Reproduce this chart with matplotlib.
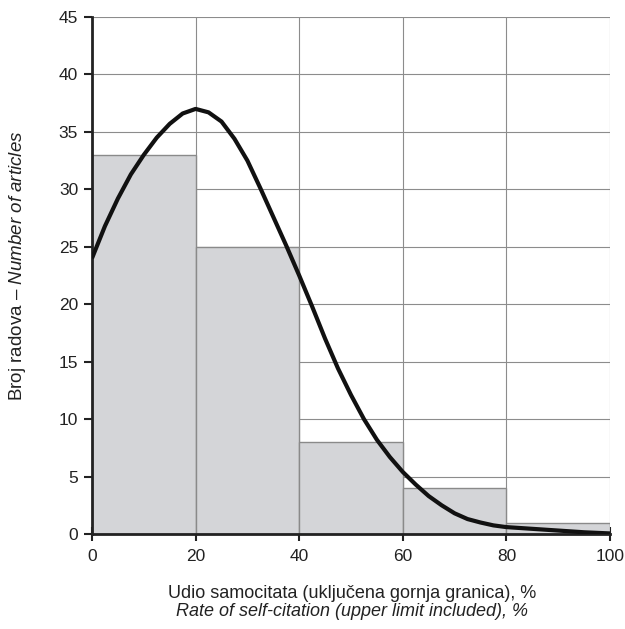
import matplotlib
matplotlib.use("Agg")
import matplotlib.pyplot as plt
from matplotlib import font_manager

names = {f.name for f in font_manager.fontManager.ttflist}
fam = 'Liberation Sans Narrow' if 'Liberation Sans Narrow' in names else 'Liberation Sans'
plt.rcParams['font.family'] = [fam, 'DejaVu Sans']
plt.rcParams['mathtext.fontset'] = 'custom'
plt.rcParams['mathtext.rm'] = fam
plt.rcParams['mathtext.it'] = fam + ':italic'

# Histogram data
bin_left = [0, 20, 40, 60, 80]
bin_width = 20
counts = [33, 25, 8, 4, 1]

# Fitted curve
curve_x = [0, 2.5, 5, 7.5, 10, 12.5, 15, 17.5, 20, 22.5, 25, 27.5, 30, 32.5, 35, 37.5,
           40, 42.5, 45, 47.5, 50, 52.5, 55, 57.5, 60, 62.5, 65, 67.5, 70, 72.5, 75,
           77.5, 80, 85, 90, 95, 100]
curve_y = [24.0, 26.8, 29.2, 31.3, 33.0, 34.5, 35.7, 36.6, 37.0, 36.7, 35.9, 34.4, 32.5,
           30.1, 27.6, 25.1, 22.5, 19.8, 17.0, 14.4, 12.1, 10.0, 8.2, 6.7, 5.4, 4.3, 3.3,
           2.5, 1.8, 1.3, 1.0, 0.75, 0.6, 0.45, 0.3, 0.15, 0.05]

x_ticks = [0, 20, 40, 60, 80, 100]
y_ticks = [0, 5, 10, 15, 20, 25, 30, 35, 40, 45]

fig = plt.figure(figsize=(6.25, 6.29), dpi=100)
ax = fig.add_axes([92/625, 95/629, 518/625, 517/629])

ax.set_axisbelow(True)
ax.grid(True, color='#8c8c8c', lw=0.8)
ax.bar(bin_left, counts, width=bin_width, align='edge', facecolor='#d4d5d8',
       edgecolor='#8a8a8a', lw=1.0, zorder=2)
ax.plot(curve_x, curve_y, color='#111111', lw=3, zorder=3,
        solid_capstyle='butt', solid_joinstyle='round')

ax.set_xlim(0, 100)
ax.set_ylim(0, 45)
ax.set_xticks(x_ticks)
ax.set_yticks(y_ticks)
ax.tick_params(labelsize=12.5, colors='#222222')
ax.tick_params(axis='x', direction='inout', length=10, width=1.5, pad=6)
ax.tick_params(axis='y', direction='out', length=6, width=1.5, pad=4)
for s in ['top', 'right']:
    ax.spines[s].set_visible(False)
for s in ['left', 'bottom']:
    ax.spines[s].set_linewidth(2)
    ax.spines[s].set_color('#222222')

fig.text(352/625, 1 - 594/629, 'Udio samocitata (uključena gornja granica), %',
         ha='center', va='center', fontsize=13, color='#222222')
fig.text(352/625, 1 - 612/629, 'Rate of self-citation (upper limit included), %',
         ha='center', va='center', fontsize=13, style='italic', color='#222222')
fig.text(18/625, 1 - 266/629, r'Broj radova – $\it{Number\ of\ articles}$',
         ha='center', va='center', rotation=90, fontsize=13.5, color='#222222')

fig.savefig('out.png', dpi=100)
